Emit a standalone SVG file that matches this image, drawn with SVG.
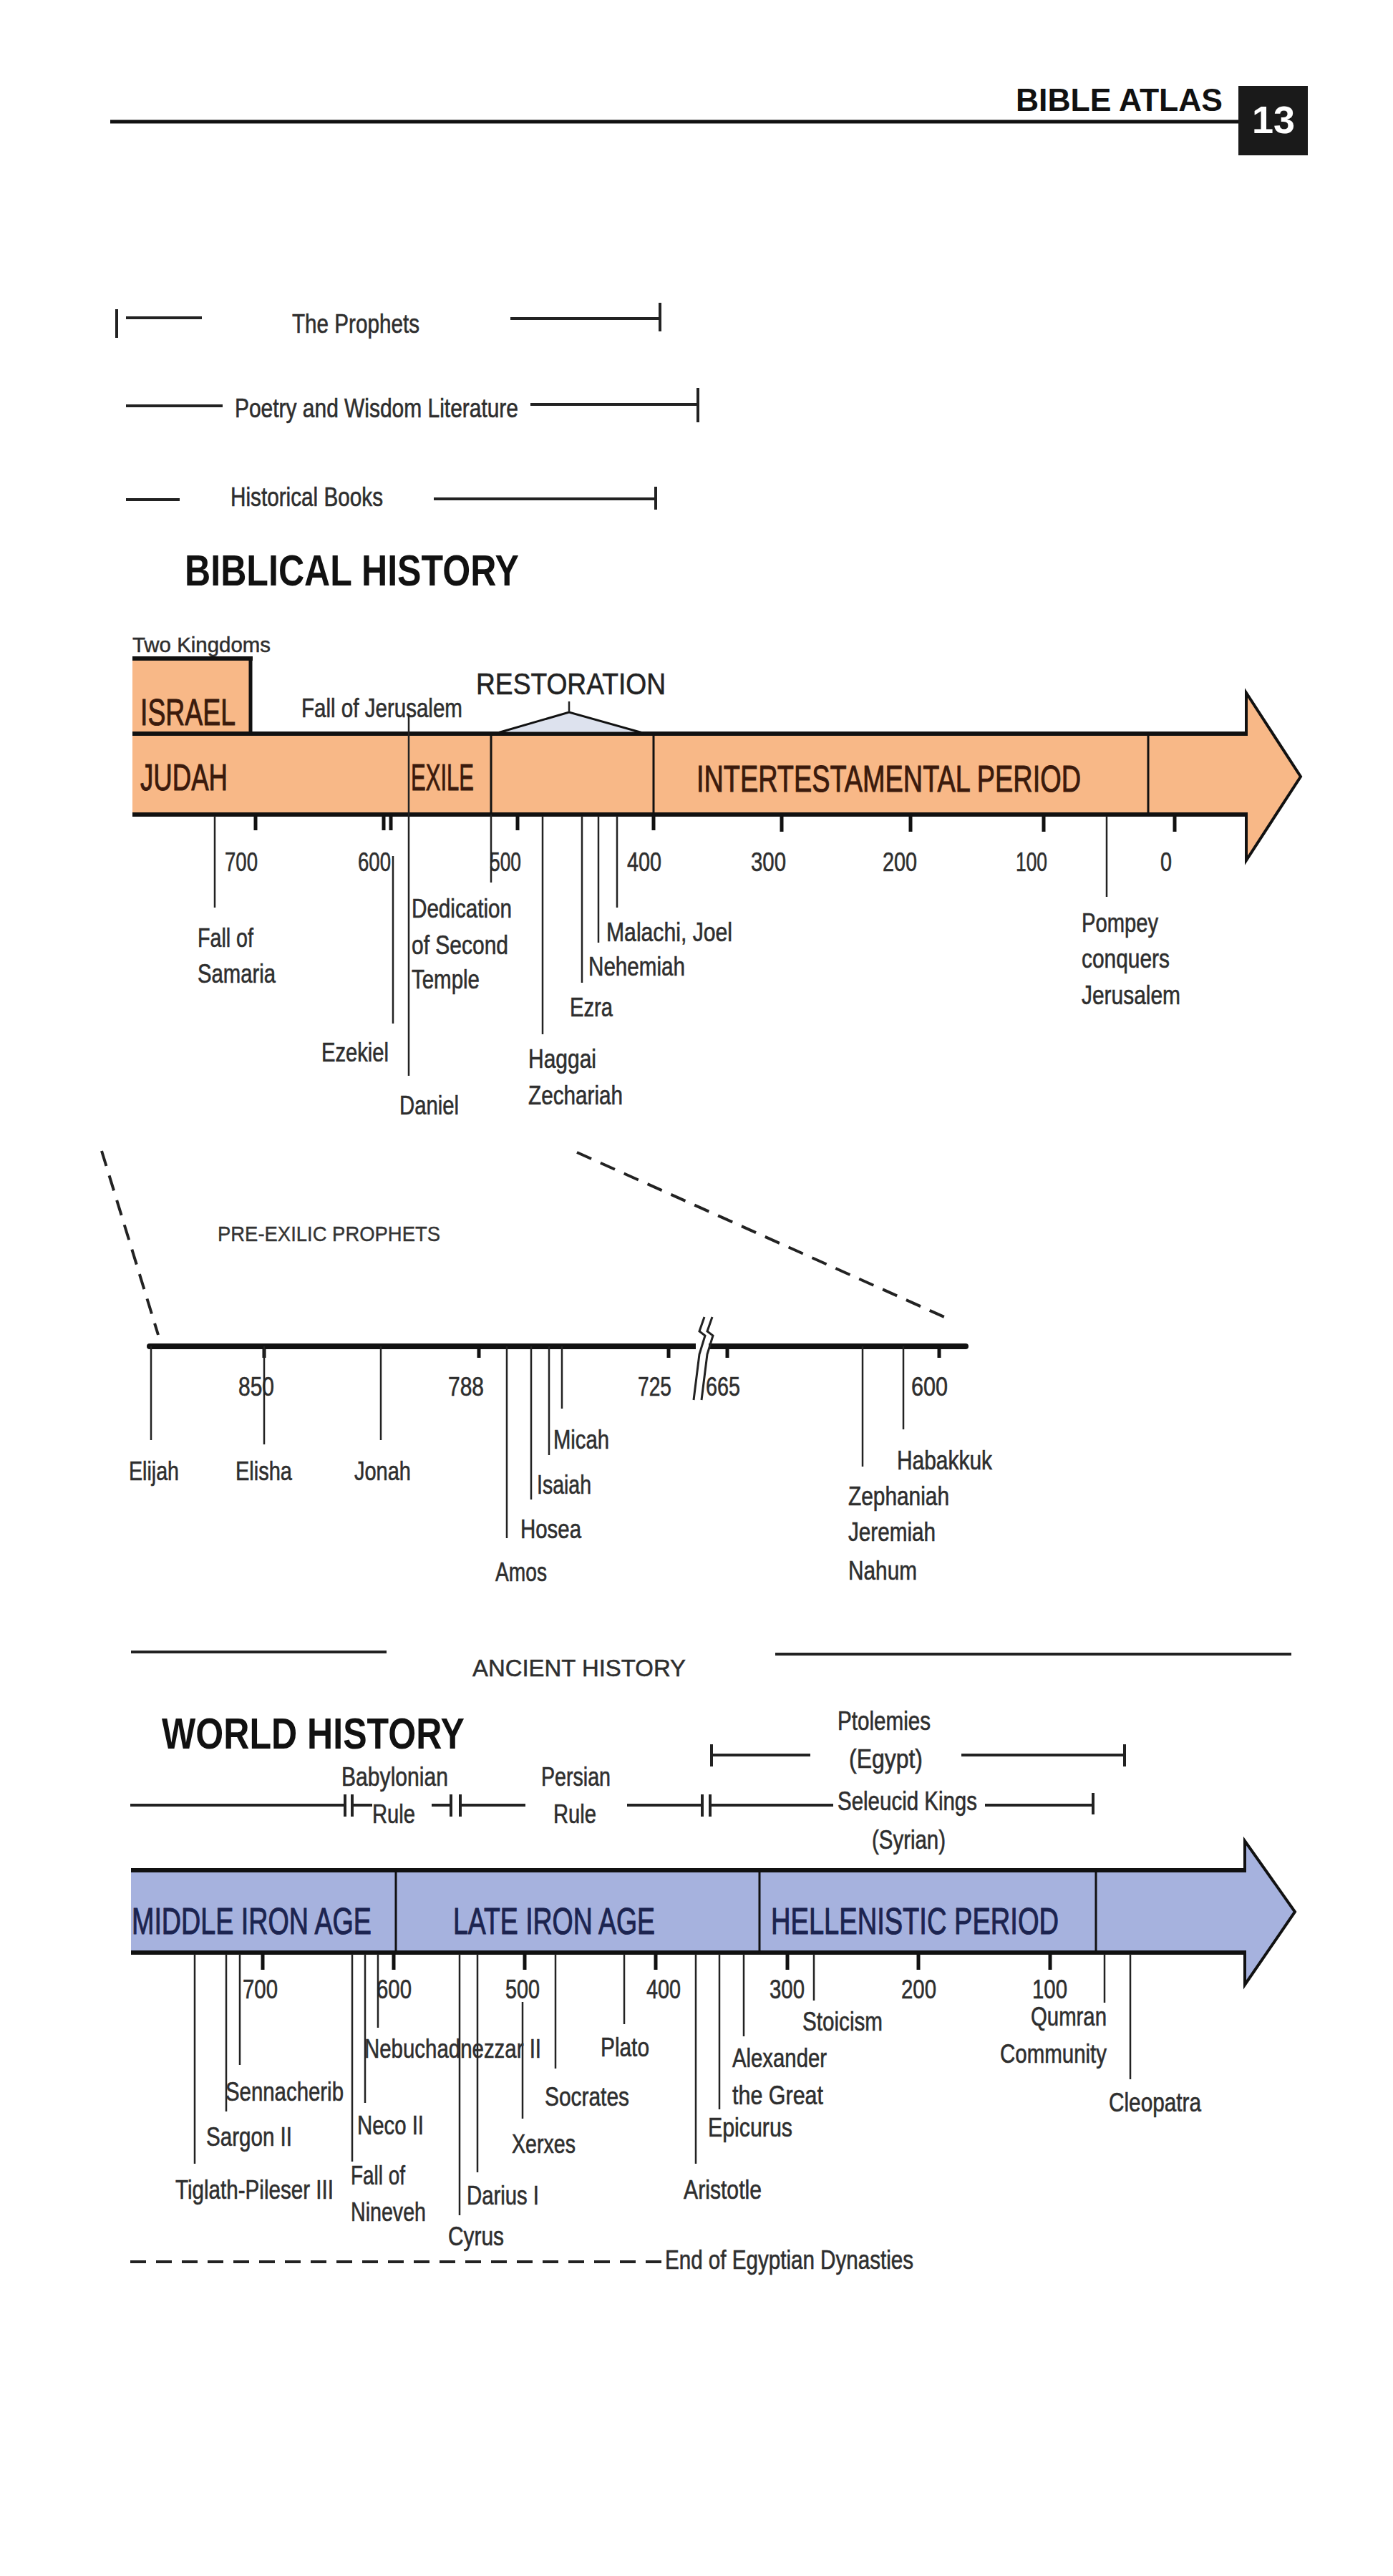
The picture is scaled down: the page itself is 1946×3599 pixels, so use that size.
<svg xmlns="http://www.w3.org/2000/svg" width="1946" height="3599" viewBox="0 0 1946 3599">
<style>
text { font-family: "Liberation Sans", Arial, Helvetica, sans-serif; }
.lbl { font-size: 36px; fill: #2e2e2e; stroke: #2e2e2e; stroke-width: 0.6px; }
.sm { font-size: 30px; fill: #2e2e2e; stroke: #2e2e2e; stroke-width: 0.5px; }
.ttl { font-size: 62px; font-weight: bold; fill: #111; }
.barU { font-size: 52px; fill: #3b1a0c; stroke: #3b1a0c; stroke-width: 1px; }
.barL { font-size: 52px; fill: #1c2450; stroke: #1c2450; stroke-width: 1px; }
.ev { stroke: #222; stroke-width: 2.5; fill: none; }
.tk { stroke: #111; stroke-width: 5; fill: none; }
.rng { stroke: #222; stroke-width: 4; fill: none; }
.thick { stroke: #111; stroke-width: 6; fill: none; }
.div { stroke: #111; stroke-width: 3; fill: none; }
.dash { stroke: #222; stroke-width: 4; stroke-dasharray: 22 14; fill: none; }
</style>
<rect x="0" y="0" width="1946" height="3599" fill="#ffffff"/>

<g id="header">
  <line x1="154" y1="170" x2="1732" y2="170" stroke="#111" stroke-width="5"/>
  <text x="1419" y="155" font-size="44" font-weight="bold" fill="#111" textLength="289" lengthAdjust="spacingAndGlyphs">BIBLE ATLAS</text>
  <rect x="1730" y="120" width="97" height="97" fill="#1a1a1a"/>
  <text x="1779" y="186" font-size="54" font-weight="bold" fill="#ffffff" text-anchor="middle">13</text>
</g>

<g id="book-ranges">
  <g id="prophets-range">
    <line class="rng" x1="163" y1="432" x2="163" y2="472"/>
    <line class="rng" x1="176" y1="444" x2="282" y2="444"/>
    <text class="lbl" x="408" y="465" textLength="178" lengthAdjust="spacingAndGlyphs">The Prophets</text>
    <line class="rng" x1="713" y1="445" x2="922" y2="445"/>
    <line class="rng" x1="922" y1="423" x2="922" y2="463"/>
  </g>
  <g id="poetry-range">
    <line class="rng" x1="176" y1="567" x2="311" y2="567"/>
    <text class="lbl" x="328" y="583" textLength="396" lengthAdjust="spacingAndGlyphs">Poetry and Wisdom Literature</text>
    <line class="rng" x1="741" y1="565" x2="975" y2="565"/>
    <line class="rng" x1="975" y1="542" x2="975" y2="590"/>
  </g>
  <g id="historical-range">
    <line class="rng" x1="176" y1="698" x2="251" y2="698"/>
    <text class="lbl" x="322" y="707" textLength="213" lengthAdjust="spacingAndGlyphs">Historical Books</text>
    <line class="rng" x1="606" y1="697" x2="916" y2="697"/>
    <line class="rng" x1="916" y1="680" x2="916" y2="712"/>
  </g>
</g>

<g id="biblical-history">
  <text class="ttl" x="258" y="818" textLength="467" lengthAdjust="spacingAndGlyphs">BIBLICAL HISTORY</text>
  <text class="sm" x="185" y="911" textLength="193" lengthAdjust="spacingAndGlyphs">Two Kingdoms</text>

  <g id="israel">
    <rect x="185" y="920" width="165" height="105" fill="#f8b887"/>
    <line class="thick" x1="185" y1="920" x2="353" y2="920"/>
    <line class="tk" x1="350" y1="918" x2="350" y2="1025"/>
    <text class="barU" x="196" y="1013" textLength="133" lengthAdjust="spacingAndGlyphs">ISRAEL</text>
  </g>

  <g id="upper-bar">
    <path d="M185 1025 L1741 1025 L1741 968 L1817 1085 L1741 1202 L1741 1138 L185 1138 Z" fill="#f8b887"/>
    <line class="thick" x1="185" y1="1025" x2="1743" y2="1025"/>
    <line class="thick" x1="185" y1="1138" x2="1743" y2="1138"/>
    <path d="M1741 1025 L1741 968 L1817 1085 L1741 1202 L1741 1138" fill="none" stroke="#111" stroke-width="4" stroke-linejoin="miter"/>
    <line class="div" x1="686" y1="1025" x2="686" y2="1138"/>
    <line class="div" x1="913" y1="1025" x2="913" y2="1138"/>
    <line class="div" x1="1604" y1="1025" x2="1604" y2="1138"/>
  </g>

  <g id="judah"><text class="barU" x="196" y="1104" textLength="122" lengthAdjust="spacingAndGlyphs">JUDAH</text></g>
  <g id="exile"><text class="barU" x="574" y="1104" textLength="88" lengthAdjust="spacingAndGlyphs">EXILE</text></g>
  <g id="intertestamental"><text class="barU" x="973" y="1106" textLength="537" lengthAdjust="spacingAndGlyphs">INTERTESTAMENTAL PERIOD</text></g>

  <g id="restoration">
    <polygon points="695,1024 795,995 898,1024" fill="#dde2ee" stroke="#111" stroke-width="3"/>
    <line class="ev" x1="795" y1="980" x2="795" y2="995"/>
    <text x="665" y="970" font-size="42" fill="#222" stroke="#222" stroke-width="0.6" textLength="265" lengthAdjust="spacingAndGlyphs">RESTORATION</text>
  </g>

  <g id="fall-of-jerusalem">
    <text class="lbl" x="421" y="1002" textLength="225" lengthAdjust="spacingAndGlyphs">Fall of Jerusalem</text>
  </g>

  <g id="upper-ticks">
    <line class="tk" x1="357" y1="1138" x2="357" y2="1160"/>
    <line class="tk" x1="536" y1="1138" x2="536" y2="1160"/>
    <line class="tk" x1="546" y1="1138" x2="546" y2="1160"/>
    <line class="tk" x1="723" y1="1138" x2="723" y2="1160"/>
    <line class="tk" x1="913" y1="1138" x2="913" y2="1160"/>
    <line class="tk" x1="1092" y1="1138" x2="1092" y2="1162"/>
    <line class="tk" x1="1272" y1="1138" x2="1272" y2="1162"/>
    <line class="tk" x1="1458" y1="1138" x2="1458" y2="1162"/>
    <line class="tk" x1="1641" y1="1138" x2="1641" y2="1162"/>
    <text class="lbl" x="314" y="1217" textLength="46" lengthAdjust="spacingAndGlyphs">700</text>
    <text class="lbl" x="500" y="1217" textLength="46" lengthAdjust="spacingAndGlyphs">600</text>
    <text class="lbl" x="684" y="1217" textLength="44" lengthAdjust="spacingAndGlyphs">500</text>
    <text class="lbl" x="876" y="1217" textLength="48" lengthAdjust="spacingAndGlyphs">400</text>
    <text class="lbl" x="1049" y="1217" textLength="49" lengthAdjust="spacingAndGlyphs">300</text>
    <text class="lbl" x="1233" y="1217" textLength="48" lengthAdjust="spacingAndGlyphs">200</text>
    <text class="lbl" x="1419" y="1217" textLength="44" lengthAdjust="spacingAndGlyphs">100</text>
    <text class="lbl" x="1621" y="1217" textLength="16" lengthAdjust="spacingAndGlyphs">0</text>
  </g>

  <g id="upper-events-lines">
    <line class="ev" x1="300" y1="1140" x2="300" y2="1268"/>
    <line class="ev" x1="549" y1="1196" x2="549" y2="1430"/>
    <line class="ev" x1="571" y1="997" x2="571" y2="1503"/>
    <line class="ev" x1="686" y1="1138" x2="686" y2="1233"/>
    <line class="ev" x1="758" y1="1140" x2="758" y2="1445"/>
    <line class="ev" x1="813" y1="1140" x2="813" y2="1373"/>
    <line class="ev" x1="836" y1="1140" x2="836" y2="1317"/>
    <line class="ev" x1="862" y1="1140" x2="862" y2="1268"/>
    <line class="ev" x1="1546" y1="1140" x2="1546" y2="1253"/>
  </g>

  <g id="fall-of-samaria"><text class="lbl" x="276" y="1323" textLength="78" lengthAdjust="spacingAndGlyphs">Fall of</text><text class="lbl" x="276" y="1373" textLength="109" lengthAdjust="spacingAndGlyphs">Samaria</text></g>
  <g id="ezekiel"><text class="lbl" x="449" y="1483" textLength="94" lengthAdjust="spacingAndGlyphs">Ezekiel</text></g>
  <g id="daniel"><text class="lbl" x="558" y="1557" textLength="83" lengthAdjust="spacingAndGlyphs">Daniel</text></g>
  <g id="dedication"><text class="lbl" x="575" y="1282" textLength="140" lengthAdjust="spacingAndGlyphs">Dedication</text><text class="lbl" x="575" y="1333" textLength="135" lengthAdjust="spacingAndGlyphs">of Second</text><text class="lbl" x="575" y="1381" textLength="95" lengthAdjust="spacingAndGlyphs">Temple</text></g>
  <g id="malachi-joel"><text class="lbl" x="847" y="1315" textLength="176" lengthAdjust="spacingAndGlyphs">Malachi, Joel</text></g>
  <g id="nehemiah"><text class="lbl" x="822" y="1363" textLength="135" lengthAdjust="spacingAndGlyphs">Nehemiah</text></g>
  <g id="ezra"><text class="lbl" x="796" y="1420" textLength="60" lengthAdjust="spacingAndGlyphs">Ezra</text></g>
  <g id="haggai-zechariah"><text class="lbl" x="738" y="1492" textLength="95" lengthAdjust="spacingAndGlyphs">Haggai</text><text class="lbl" x="738" y="1543" textLength="132" lengthAdjust="spacingAndGlyphs">Zechariah</text></g>
  <g id="pompey"><text class="lbl" x="1511" y="1302" textLength="107" lengthAdjust="spacingAndGlyphs">Pompey</text><text class="lbl" x="1511" y="1352" textLength="123" lengthAdjust="spacingAndGlyphs">conquers</text><text class="lbl" x="1511" y="1403" textLength="138" lengthAdjust="spacingAndGlyphs">Jerusalem</text></g>
</g>

<g id="pre-exilic">
  <line class="dash" x1="142" y1="1608" x2="221" y2="1865"/>
  <line class="dash" x1="806" y1="1610" x2="1328" y2="1844"/>
  <text x="304" y="1734" font-size="30" fill="#333" stroke="#333" stroke-width="0.4" textLength="311" lengthAdjust="spacingAndGlyphs">PRE-EXILIC  PROPHETS</text>
  <line x1="209" y1="1881" x2="1349" y2="1881" stroke="#111" stroke-width="8" stroke-linecap="round"/>
  <rect x="972" y="1874" width="18" height="14" fill="#ffffff"/>
  <path d="M984 1840 L977 1860 L985 1866 L977 1892 L969 1956" fill="none" stroke="#222" stroke-width="3"/>
  <path d="M995 1840 L988 1860 L996 1866 L988 1892 L980 1956" fill="none" stroke="#222" stroke-width="3"/>
  <g id="pre-ticks">
    <line class="tk" x1="369" y1="1881" x2="369" y2="1897"/>
    <line class="tk" x1="669" y1="1881" x2="669" y2="1897"/>
    <line class="tk" x1="934" y1="1881" x2="934" y2="1897"/>
    <line class="tk" x1="1016" y1="1881" x2="1016" y2="1897"/>
    <line class="tk" x1="1312" y1="1881" x2="1312" y2="1897"/>
    <text class="lbl" x="333" y="1950" textLength="50" lengthAdjust="spacingAndGlyphs">850</text>
    <text class="lbl" x="626" y="1950" textLength="50" lengthAdjust="spacingAndGlyphs">788</text>
    <text class="lbl" x="891" y="1950" textLength="47" lengthAdjust="spacingAndGlyphs">725</text>
    <text class="lbl" x="986" y="1950" textLength="48" lengthAdjust="spacingAndGlyphs">665</text>
    <text class="lbl" x="1273" y="1950" textLength="51" lengthAdjust="spacingAndGlyphs">600</text>
  </g>
  <g id="pre-lines">
    <line class="ev" x1="211" y1="1881" x2="211" y2="2012"/>
    <line class="ev" x1="369" y1="1881" x2="369" y2="2018"/>
    <line class="ev" x1="532" y1="1881" x2="532" y2="2012"/>
    <line class="ev" x1="708" y1="1881" x2="708" y2="2149"/>
    <line class="ev" x1="742" y1="1881" x2="742" y2="2095"/>
    <line class="ev" x1="767" y1="1881" x2="767" y2="2033"/>
    <line class="ev" x1="785" y1="1881" x2="785" y2="1968"/>
    <line class="ev" x1="1205" y1="1881" x2="1205" y2="2049"/>
    <line class="ev" x1="1262" y1="1881" x2="1262" y2="1997"/>
  </g>
  <g id="elijah"><text class="lbl" x="180" y="2068" textLength="70" lengthAdjust="spacingAndGlyphs">Elijah</text></g>
  <g id="elisha"><text class="lbl" x="329" y="2068" textLength="79" lengthAdjust="spacingAndGlyphs">Elisha</text></g>
  <g id="jonah"><text class="lbl" x="495" y="2068" textLength="79" lengthAdjust="spacingAndGlyphs">Jonah</text></g>
  <g id="micah"><text class="lbl" x="773" y="2024" textLength="78" lengthAdjust="spacingAndGlyphs">Micah</text></g>
  <g id="isaiah"><text class="lbl" x="750" y="2087" textLength="76" lengthAdjust="spacingAndGlyphs">Isaiah</text></g>
  <g id="hosea"><text class="lbl" x="727" y="2149" textLength="85" lengthAdjust="spacingAndGlyphs">Hosea</text></g>
  <g id="amos"><text class="lbl" x="692" y="2209" textLength="72" lengthAdjust="spacingAndGlyphs">Amos</text></g>
  <g id="habakkuk"><text class="lbl" x="1253" y="2053" textLength="133" lengthAdjust="spacingAndGlyphs">Habakkuk</text></g>
  <g id="zephaniah"><text class="lbl" x="1185" y="2103" textLength="141" lengthAdjust="spacingAndGlyphs">Zephaniah</text></g>
  <g id="jeremiah"><text class="lbl" x="1185" y="2153" textLength="122" lengthAdjust="spacingAndGlyphs">Jeremiah</text></g>
  <g id="nahum"><text class="lbl" x="1185" y="2207" textLength="96" lengthAdjust="spacingAndGlyphs">Nahum</text></g>
</g>

<g id="world-history">
  <g id="ancient-history">
    <line class="rng" x1="183" y1="2308" x2="540" y2="2308"/>
    <text x="660" y="2342" font-size="34" fill="#2e2e2e" stroke="#2e2e2e" stroke-width="0.5" textLength="298" lengthAdjust="spacingAndGlyphs">ANCIENT HISTORY</text>
    <line class="rng" x1="1083" y1="2311" x2="1804" y2="2311"/>
  </g>
  <text class="ttl" x="226" y="2443" textLength="423" lengthAdjust="spacingAndGlyphs">WORLD HISTORY</text>

  <g id="ptolemies">
    <line class="rng" x1="994" y1="2437" x2="994" y2="2468"/>
    <line class="rng" x1="994" y1="2452" x2="1132" y2="2452"/>
    <text class="lbl" x="1170" y="2417" textLength="130" lengthAdjust="spacingAndGlyphs">Ptolemies</text>
    <text class="lbl" x="1186" y="2470" textLength="103" lengthAdjust="spacingAndGlyphs">(Egypt)</text>
    <line class="rng" x1="1343" y1="2452" x2="1571" y2="2452"/>
    <line class="rng" x1="1571" y1="2437" x2="1571" y2="2468"/>
  </g>

  <g id="rule-line">
    <line class="rng" x1="182" y1="2522" x2="482" y2="2522"/>
    <line class="rng" x1="482" y1="2507" x2="482" y2="2538"/>
    <line class="rng" x1="492" y1="2507" x2="492" y2="2538"/>
    <line class="rng" x1="492" y1="2522" x2="520" y2="2522"/>
    <line class="rng" x1="603" y1="2522" x2="630" y2="2522"/>
    <line class="rng" x1="630" y1="2507" x2="630" y2="2538"/>
    <line class="rng" x1="643" y1="2507" x2="643" y2="2538"/>
    <line class="rng" x1="643" y1="2522" x2="734" y2="2522"/>
    <line class="rng" x1="876" y1="2522" x2="981" y2="2522"/>
    <line class="rng" x1="981" y1="2507" x2="981" y2="2538"/>
    <line class="rng" x1="992" y1="2507" x2="992" y2="2538"/>
    <line class="rng" x1="992" y1="2522" x2="1164" y2="2522"/>
    <line class="rng" x1="1376" y1="2522" x2="1527" y2="2522"/>
    <line class="rng" x1="1527" y1="2505" x2="1527" y2="2535"/>
  </g>
  <g id="babylonian"><text class="lbl" x="477" y="2495" textLength="149" lengthAdjust="spacingAndGlyphs">Babylonian</text><text class="lbl" x="520" y="2547" textLength="60" lengthAdjust="spacingAndGlyphs">Rule</text></g>
  <g id="persian"><text class="lbl" x="756" y="2495" textLength="97" lengthAdjust="spacingAndGlyphs">Persian</text><text class="lbl" x="773" y="2547" textLength="60" lengthAdjust="spacingAndGlyphs">Rule</text></g>
  <g id="seleucid"><text class="lbl" x="1170" y="2529" textLength="195" lengthAdjust="spacingAndGlyphs">Seleucid Kings</text><text class="lbl" x="1218" y="2583" textLength="103" lengthAdjust="spacingAndGlyphs">(Syrian)</text></g>

  <g id="lower-bar">
    <path d="M183 2613 L1739 2613 L1739 2572 L1809 2671 L1739 2773 L1739 2728 L183 2728 Z" fill="#a6b2de"/>
    <line class="thick" x1="183" y1="2613" x2="1741" y2="2613"/>
    <line class="thick" x1="183" y1="2728" x2="1741" y2="2728"/>
    <path d="M1739 2613 L1739 2572 L1809 2671 L1739 2773 L1739 2728" fill="none" stroke="#111" stroke-width="4"/>
    <line class="div" x1="553" y1="2613" x2="553" y2="2728"/>
    <line class="div" x1="1061" y1="2613" x2="1061" y2="2728"/>
    <line class="div" x1="1531" y1="2613" x2="1531" y2="2728"/>
  </g>
  <g id="middle-iron-age"><text class="barL" x="184" y="2702" textLength="335" lengthAdjust="spacingAndGlyphs">MIDDLE IRON AGE</text></g>
  <g id="late-iron-age"><text class="barL" x="633" y="2702" textLength="282" lengthAdjust="spacingAndGlyphs">LATE IRON AGE</text></g>
  <g id="hellenistic"><text class="barL" x="1077" y="2702" textLength="402" lengthAdjust="spacingAndGlyphs">HELLENISTIC PERIOD</text></g>

  <g id="lower-ticks">
    <line class="tk" x1="367" y1="2728" x2="367" y2="2752"/>
    <line class="tk" x1="550" y1="2728" x2="550" y2="2752"/>
    <line class="tk" x1="733" y1="2728" x2="733" y2="2752"/>
    <line class="tk" x1="916" y1="2728" x2="916" y2="2752"/>
    <line class="tk" x1="1100" y1="2728" x2="1100" y2="2752"/>
    <line class="tk" x1="1283" y1="2728" x2="1283" y2="2752"/>
    <line class="tk" x1="1467" y1="2728" x2="1467" y2="2752"/>
    <text class="lbl" x="339" y="2792" textLength="49" lengthAdjust="spacingAndGlyphs">700</text>
    <text class="lbl" x="526" y="2792" textLength="49" lengthAdjust="spacingAndGlyphs">600</text>
    <text class="lbl" x="706" y="2792" textLength="48" lengthAdjust="spacingAndGlyphs">500</text>
    <text class="lbl" x="903" y="2792" textLength="48" lengthAdjust="spacingAndGlyphs">400</text>
    <text class="lbl" x="1075" y="2792" textLength="49" lengthAdjust="spacingAndGlyphs">300</text>
    <text class="lbl" x="1259" y="2792" textLength="49" lengthAdjust="spacingAndGlyphs">200</text>
    <text class="lbl" x="1442" y="2792" textLength="49" lengthAdjust="spacingAndGlyphs">100</text>
  </g>

  <g id="lower-event-lines">
    <line class="ev" x1="272" y1="2730" x2="272" y2="3023"/>
    <line class="ev" x1="316" y1="2730" x2="316" y2="2950"/>
    <line class="ev" x1="335" y1="2730" x2="335" y2="2885"/>
    <line class="ev" x1="492" y1="2730" x2="492" y2="3020"/>
    <line class="ev" x1="510" y1="2730" x2="510" y2="2938"/>
    <line class="ev" x1="528" y1="2730" x2="528" y2="2833"/>
    <line class="ev" x1="642" y1="2730" x2="642" y2="3095"/>
    <line class="ev" x1="667" y1="2730" x2="667" y2="3035"/>
    <line class="ev" x1="730" y1="2797" x2="730" y2="2960"/>
    <line class="ev" x1="776" y1="2730" x2="776" y2="2890"/>
    <line class="ev" x1="872" y1="2730" x2="872" y2="2828"/>
    <line class="ev" x1="972" y1="2730" x2="972" y2="3023"/>
    <line class="ev" x1="1005" y1="2730" x2="1005" y2="2947"/>
    <line class="ev" x1="1039" y1="2730" x2="1039" y2="2845"/>
    <line class="ev" x1="1137" y1="2730" x2="1137" y2="2795"/>
    <line class="ev" x1="1543" y1="2730" x2="1543" y2="2798"/>
    <line class="ev" x1="1579" y1="2730" x2="1579" y2="2905"/>
  </g>

  <g id="nebuchadnezzar"><text class="lbl" x="509" y="2875" textLength="247" lengthAdjust="spacingAndGlyphs">Nebuchadnezzar II</text></g>
  <g id="plato"><text class="lbl" x="839" y="2873" textLength="68" lengthAdjust="spacingAndGlyphs">Plato</text></g>
  <g id="sennacherib"><text class="lbl" x="315" y="2935" textLength="165" lengthAdjust="spacingAndGlyphs">Sennacherib</text></g>
  <g id="socrates"><text class="lbl" x="761" y="2942" textLength="118" lengthAdjust="spacingAndGlyphs">Socrates</text></g>
  <g id="sargon"><text class="lbl" x="288" y="2998" textLength="120" lengthAdjust="spacingAndGlyphs">Sargon II</text></g>
  <g id="neco"><text class="lbl" x="499" y="2982" textLength="93" lengthAdjust="spacingAndGlyphs">Neco II</text></g>
  <g id="xerxes"><text class="lbl" x="715" y="3008" textLength="89" lengthAdjust="spacingAndGlyphs">Xerxes</text></g>
  <g id="tiglath"><text class="lbl" x="245" y="3072" textLength="221" lengthAdjust="spacingAndGlyphs">Tiglath-Pileser III</text></g>
  <g id="fall-of-nineveh"><text class="lbl" x="490" y="3052" textLength="76" lengthAdjust="spacingAndGlyphs">Fall of</text><text class="lbl" x="490" y="3103" textLength="105" lengthAdjust="spacingAndGlyphs">Nineveh</text></g>
  <g id="darius"><text class="lbl" x="652" y="3080" textLength="101" lengthAdjust="spacingAndGlyphs">Darius I</text></g>
  <g id="cyrus"><text class="lbl" x="626" y="3137" textLength="78" lengthAdjust="spacingAndGlyphs">Cyrus</text></g>
  <g id="stoicism"><text class="lbl" x="1121" y="2837" textLength="112" lengthAdjust="spacingAndGlyphs">Stoicism</text></g>
  <g id="qumran"><text class="lbl" x="1440" y="2830" textLength="106" lengthAdjust="spacingAndGlyphs">Qumran</text><text class="lbl" x="1397" y="2882" textLength="149" lengthAdjust="spacingAndGlyphs">Community</text></g>
  <g id="alexander"><text class="lbl" x="1023" y="2888" textLength="132" lengthAdjust="spacingAndGlyphs">Alexander</text><text class="lbl" x="1023" y="2940" textLength="127" lengthAdjust="spacingAndGlyphs">the Great</text></g>
  <g id="epicurus"><text class="lbl" x="989" y="2985" textLength="118" lengthAdjust="spacingAndGlyphs">Epicurus</text></g>
  <g id="aristotle"><text class="lbl" x="955" y="3072" textLength="109" lengthAdjust="spacingAndGlyphs">Aristotle</text></g>
  <g id="cleopatra"><text class="lbl" x="1549" y="2950" textLength="129" lengthAdjust="spacingAndGlyphs">Cleopatra</text></g>

  <g id="egyptian-dynasties">
    <line class="dash" x1="182" y1="3160" x2="926" y2="3160"/>
    <text class="lbl" x="929" y="3170" textLength="347" lengthAdjust="spacingAndGlyphs">End of Egyptian Dynasties</text>
  </g>
</g>
</svg>
